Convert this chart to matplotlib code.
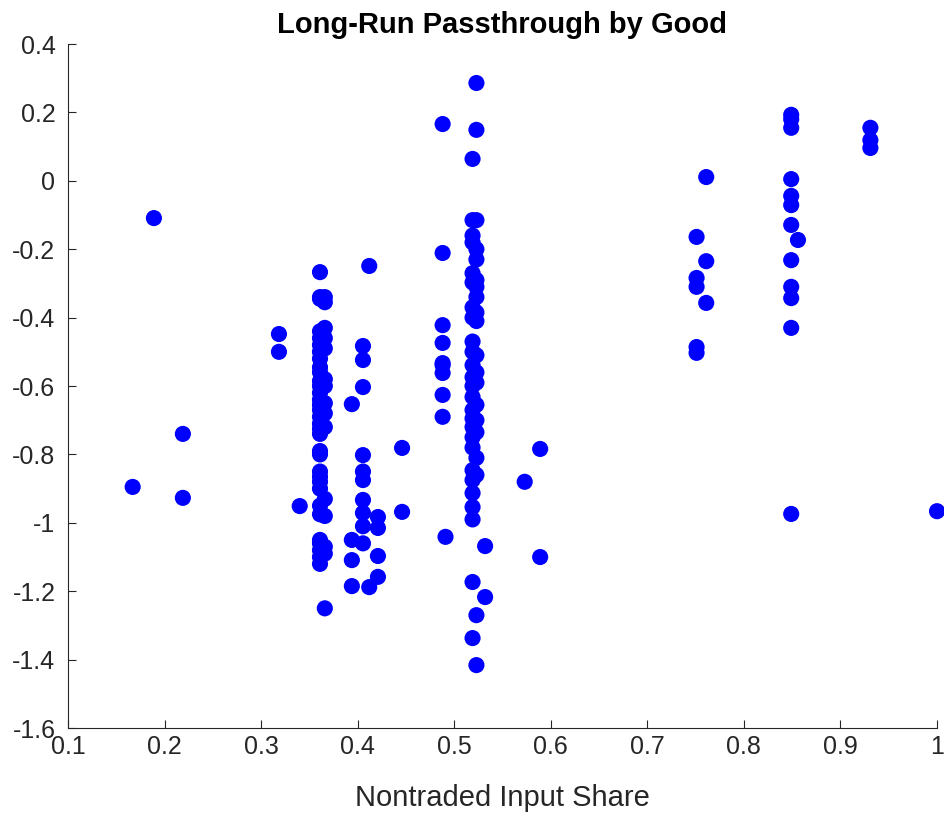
import matplotlib.pyplot as plt
from matplotlib.ticker import FuncFormatter

# nontraded input share (x) and long-run passthrough (y), one list pair per column of goods
x_a = [0.167, 0.189, 0.219, 0.219, 0.3185, 0.3185, 0.340]
y_a = [-0.895, -0.109, -0.740, -0.927, -0.448, -0.500, -0.951]

y_361 = [-0.267, -0.34, -0.345, -0.44, -0.46, -0.48, -0.50, -0.52, -0.545, -0.56,
         -0.585, -0.60, -0.62, -0.64, -0.655, -0.67, -0.69, -0.71, -0.725, -0.74,
         -0.79, -0.80, -0.85, -0.865, -0.88, -0.90, -0.95, -0.975, -1.05, -1.06,
         -1.08, -1.10, -1.12]
y_366 = [-0.34, -0.355, -0.43, -0.46, -0.49, -0.58, -0.60, -0.65, -0.68, -0.72,
         -0.93, -0.98, -1.07, -1.09, -1.25]

x_b = [0.394, 0.394, 0.394, 0.394, 0.412, 0.412, 0.421, 0.421, 0.421, 0.421,
       0.446, 0.446]
y_b = [-0.653, -1.05, -1.109, -1.185, -0.249, -1.188, -0.983, -1.015, -1.097, -1.158,
       -0.781, -0.968]
y_4055 = [-0.483, -0.524, -0.603, -0.802, -0.85, -0.875, -0.933, -0.971, -1.01, -1.06]

y_488 = [0.166, -0.211, -0.422, -0.474, -0.533, -0.539, -0.562, -0.626, -0.690]
x_c = [0.491, 0.532, 0.532, 0.573, 0.589, 0.589]
y_c = [-1.041, -1.068, -1.217, -0.880, -0.784, -1.100]

y_519 = [0.064, -0.115, -0.16, -0.18, -0.27, -0.297, -0.37, -0.40, -0.47, -0.50,
         -0.539, -0.574, -0.60, -0.632, -0.67, -0.695, -0.72, -0.75, -0.78, -0.846,
         -0.875, -0.913, -0.954, -0.99, -1.173, -1.337]
y_523 = [0.286, 0.149, -0.115, -0.20, -0.23, -0.29, -0.31, -0.34, -0.385, -0.41,
         -0.51, -0.56, -0.59, -0.655, -0.70, -0.735, -0.81, -0.86, -1.27, -1.416]

x_d = [0.751, 0.751, 0.751, 0.751, 0.751, 0.761, 0.761, 0.761, 0.856, 0.931, 0.931,
       0.931, 1.0]
y_d = [-0.164, -0.284, -0.31, -0.486, -0.503, 0.011, -0.235, -0.357, -0.173, 0.155,
       0.119, 0.096, -0.966]
y_849 = [0.193, 0.18, 0.155, 0.005, -0.044, -0.071, -0.129, -0.232, -0.31, -0.343,
         -0.43, -0.974]

xs = (x_a + [0.361] * len(y_361) + [0.366] * len(y_366) + x_b + [0.4055] * len(y_4055)
      + [0.488] * len(y_488) + x_c + [0.519] * len(y_519) + [0.523] * len(y_523)
      + x_d + [0.849] * len(y_849))
ys = y_a + y_361 + y_366 + y_b + y_4055 + y_488 + y_c + y_519 + y_523 + y_d + y_849

plt.rcParams['font.family'] = ['Liberation Sans', 'DejaVu Sans']
plt.rcParams['axes.unicode_minus'] = False

fig = plt.figure(figsize=(9.44, 8.15), dpi=100)
ax = fig.add_axes([0.072, 0.1067, 0.9206, 0.8393])
ax.scatter(xs, ys, s=135, color='#0000ff', edgecolors='none', clip_on=False, zorder=3)

ax.set_xlim(0.1, 1.0)
ax.set_ylim(-1.6, 0.4)
ax.set_xticks([0.1 * i for i in range(1, 11)])
ax.set_yticks([-1.6 + 0.2 * i for i in range(11)])
fmt = FuncFormatter(lambda v, p: '%g' % round(v, 2))
ax.xaxis.set_major_formatter(fmt)
ax.yaxis.set_major_formatter(fmt)
ax.tick_params(direction='in', length=6, width=0.8, labelsize=18, colors='#262626')
ax.tick_params(axis='y', pad=9)
ax.tick_params(axis='x', pad=5)
for side in ['top', 'right']:
    ax.spines[side].set_visible(False)
for side in ['left', 'bottom']:
    ax.spines[side].set_color('#262626')
    ax.spines[side].set_linewidth(0.8)

ax.set_xlabel('Nontraded Input Share', fontsize=21, color='#262626', labelpad=18)
ax.set_title('Long-Run Passthrough by Good', fontsize=21, fontweight='bold', pad=8)

fig.savefig('out.png', dpi=100)
